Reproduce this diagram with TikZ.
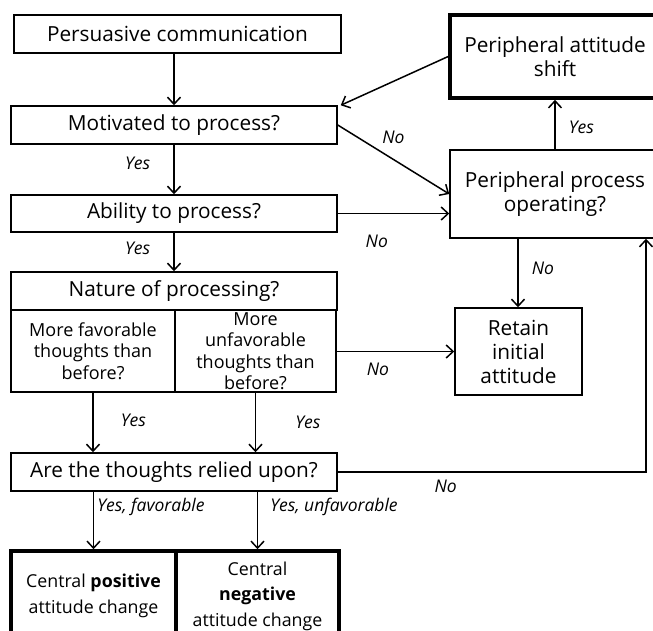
\documentclass[tikz,border=0pt]{standalone}
\usepackage{fontspec}
\setmainfont{Open Sans}
\usetikzlibrary{arrows.meta}

\begin{document}
\begin{tikzpicture}[x=1pt, y=-1pt, line width=1.5pt,
		>={Straight Barb[length=7pt, width=13pt, line width=1.5pt]}]

		% picture frame, the last boxes run off the page
		\clip (0,0) rectangle (653,630);

		\tikzset{
			styleBox/.style={
				draw, rectangle, inner sep=2pt, align=center,
				font=\fontsize{20.8}{24}\selectfont
			},	% plain box with a question
			styleSubBox/.style={
				styleBox, font=\fontsize{18}{21.5}\selectfont
			},
			styleResult/.style={
				styleBox, line width=3.6pt
			},	% end state, thick frame
			styleLabel/.style={
				inner sep=1pt, font=\fontsize{17.5}{20}\selectfont\itshape
			}
		};

		% central route
		\node [styleBox, minimum width=327, minimum height=38] (pc) at (177.5, 34)
			{Persuasive communication};
		\node [styleBox, minimum width=326, minimum height=38] (mot) at (174, 125)
			{Motivated to process?};
		\node [styleBox, minimum width=326, minimum height=37] (abl) at (174, 213.5)
			{Ability to process?};
		\node [styleBox, minimum width=326, minimum height=38] (nat) at (174, 291)
			{Nature of processing?};
		\node [styleSubBox, minimum width=164, minimum height=82] (fav) at (93, 351)
			{More favorable\\thoughts than\\before?};
		\node [styleSubBox, minimum width=161, minimum height=82] (unf) at (255.5, 351)
			{More\\unfavorable\\thoughts than\\before?};
		\node [styleBox, minimum width=326, minimum height=38] (rel) at (174, 472)
			{Are the thoughts relied upon?};
		\node [styleResult, minimum width=165, minimum height=90,
			font=\fontsize{17.8}{25.5}\selectfont] (pos) at (93.5, 596)
			{Central \textbf{positive}\\attitude change};
		\node [styleResult, minimum width=163, minimum height=90,
			font=\fontsize{17.8}{25.5}\selectfont] (neg) at (257.5, 596)
			{Central\\\textbf{negative}\\attitude change};

		% peripheral route
		\node [styleResult, minimum width=210, minimum height=83] (shift) at (555, 56.5)
			{Peripheral attitude\\shift};
		\node [styleBox, minimum width=210, minimum height=88] (proc) at (555, 194)
			{Peripheral process\\operating?};
		\node [styleBox, minimum width=127, minimum height=87] (ret) at (518.5, 351.5)
			{Retain\\initial\\attitude};

		% down the central route
		\draw [->] (mot.north |- pc.south) -- (mot.north);
		\draw [->] (mot) -- node [styleLabel, pos=0.37, left=22pt] {Yes} (abl);
		\draw [->] (abl) -- node [styleLabel, pos=0.4, left=22pt] {Yes} (nat);
		\draw [->] (fav) -- node [styleLabel, pos=0.46, right=26pt] {Yes} (fav |- rel.north);
		\draw [->] (unf) -- node [styleLabel, pos=0.5, right=38pt] {Yes} (unf |- rel.north);
		\draw [->] (pos |- rel.south) -- node [styleLabel, pos=0.27, anchor=west, xshift=2pt]
			{Yes, favorable} (pos.north);
		\draw [->] (neg |- rel.south) -- node [styleLabel, pos=0.27, anchor=west, xshift=11pt]
			{Yes, unfavorable} (neg.north);

		% over to the peripheral route
		\draw [->] (shift.west) -- ([xshift=3pt]mot.north east);
		\draw [->] (mot.east) -- node [styleLabel, pos=0.5, above=14pt] {No} (proc.west);
		\draw [->] (abl.east) -- node [styleLabel, pos=0.35, below=20pt] {No} (abl.east -| proc.west);
		\draw [->] (proc.north) -- node [styleLabel, pos=0.45, right=12pt] {Yes} (shift.south);
		\coordinate (procOut) at ([xshift=-37pt]proc.south);
		\draw [->] (procOut) -- node [styleLabel, pos=0.43, right=12pt] {No} (procOut |- ret.north);
		\draw [->] (unf.east |- ret.west) -- node [styleLabel, pos=0.35, below=10pt] {No} (ret.west);

		% thoughts not relied upon
		\coordinate (back) at ([xshift=91pt]proc.south);
		\draw [->] (rel.east) -- node [styleLabel, pos=0.35, below=6pt] {No} (rel.east -| back)
			-- (back);

	\end{tikzpicture}
\end{document}
